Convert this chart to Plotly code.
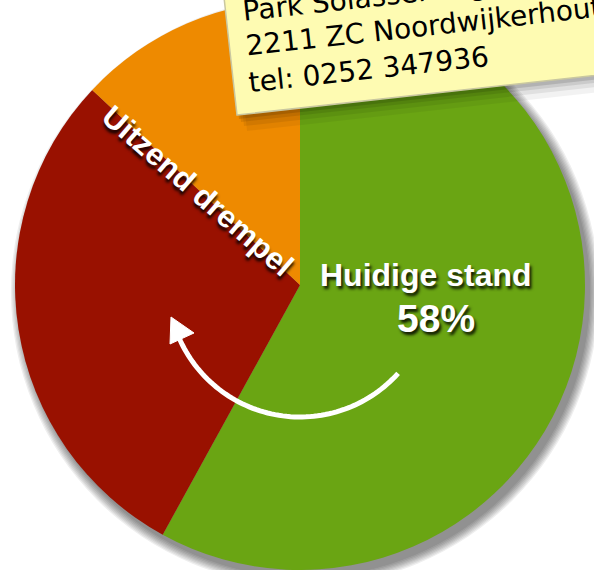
import numpy as np
import plotly.graph_objects as go

# ---- data ----
slice_labels = ["Huidige stand", "Uitzend drempel", "Rest"]
slice_values = [58, 29, 13]
slice_colors = ["#6aa513", "#991100", "#ee8a00"]
note_lines = ["Park Solasserweg 1", "2211 ZC Noordwijkerhout", "tel: 0252 347936"]
label_main = "Uitzend drempel"
label_now = "Huidige stand"
label_pct = "58%"

W, H = 594, 570
PX0, PX1 = 13, 587  # pie domain in pixels (x)


def px(x):
    return x / W


def py(y):
    return 1 - y / H


fig = go.Figure()
fig.add_trace(go.Pie(
    labels=slice_labels, values=slice_values, sort=False, direction="clockwise",
    rotation=0, textinfo="none", hoverinfo="label+percent",
    marker=dict(colors=slice_colors, line=dict(width=0)),
    domain=dict(x=[PX0 / W, PX1 / W], y=[0, 1]), showlegend=False,
))

cx, cy, r = (PX0 + PX1) / 2, H / 2, min(PX1 - PX0, H) / 2

shapes = []
# pie drop shadow
for k in range(8):
    rr = r + k * 1.3
    shapes.append(dict(type="circle", xref="paper", yref="paper", layer="below",
                       x0=px(cx + 5 - rr), x1=px(cx + 5 + rr),
                       y0=py(cy + 7 + rr), y1=py(cy + 7 - rr),
                       fillcolor="rgba(0,0,0,0.065)", line=dict(width=0)))

# curved arrow around the pie centre
ar = 132
ang = np.radians(np.linspace(42, 158, 70))
pts = [(cx + ar * np.cos(a), cy + ar * np.sin(a)) for a in ang]
path = "M " + " L ".join(f"{px(x):.5f},{py(y):.5f}" for x, y in pts)
shapes.append(dict(type="path", xref="paper", yref="paper", path=path,
                   line=dict(color="white", width=5)))
tri = [(171, 317), (170, 344), (194, 333)]
shapes.append(dict(type="path", xref="paper", yref="paper",
                   path="M " + " L ".join(f"{px(x):.5f},{py(y):.5f}" for x, y in tri) + " Z",
                   fillcolor="white", line=dict(color="white", width=1)))

# sticky note
th = np.radians(6.3)
u = np.array([np.cos(th), -np.sin(th)])
v = np.array([-np.sin(th), -np.cos(th)])
bl = np.array([237.0, 115.0])
nw, nh = 460, 260
corners = [bl, bl + nw * u, bl + nw * u + nh * v, bl + nh * v]


def poly(cs, off=(0, 0)):
    return "M " + " L ".join(f"{px(c[0] + off[0]):.5f},{py(c[1] + off[1]):.5f}" for c in cs) + " Z"


for k, (op, o) in enumerate([(0.05, (10, 16)), (0.07, (7, 11)), (0.09, (4, 7)), (0.12, (2, 4))]):
    shapes.append(dict(type="path", xref="paper", yref="paper", path=poly(corners, o),
                       fillcolor=f"rgba(0,0,0,{op})", line=dict(width=0)))
shapes.append(dict(type="path", xref="paper", yref="paper", path=poly(corners),
                   fillcolor="#fefbb2", line=dict(color="#c9c7a0", width=1.5)))

annotations = []
note_centers = [(377.6, -3.0), (423.4, 26.5), (368.6, 69.5)]
for t, (x, y) in zip(note_lines, note_centers):
    annotations.append(dict(text=t, xref="paper", yref="paper", x=px(x), y=py(y),
                            xanchor="center", yanchor="middle", showarrow=False,
                            textangle=-6.3,
                            font=dict(family="DejaVu Sans", size=28, color="black")))

shadow = "2px 3px 3px rgba(0,0,0,0.85)"
annotations.append(dict(text=label_main, xref="paper", yref="paper", x=px(197), y=py(191),
                        xanchor="center", yanchor="middle", showarrow=False, textangle=41,
                        font=dict(family="Liberation Sans", size=31, color="white",
                                  weight="bold", shadow=shadow)))
annotations.append(dict(text=label_now, xref="paper", yref="paper", x=px(426), y=py(275),
                        xanchor="center", yanchor="middle", showarrow=False,
                        font=dict(family="Liberation Sans", size=32, color="white",
                                  weight="bold", shadow=shadow)))
annotations.append(dict(text=label_pct, xref="paper", yref="paper", x=px(436), y=py(318),
                        xanchor="center", yanchor="middle", showarrow=False,
                        font=dict(family="Liberation Sans", size=39, color="white",
                                  weight="bold", shadow=shadow)))

fig.update_layout(width=W, height=H, margin=dict(l=0, r=0, t=0, b=0),
                  paper_bgcolor="white", plot_bgcolor="white",
                  shapes=shapes, annotations=annotations)
fig.write_html("out.html", config={"displayModeBar": False},
               post_script="document.body.style.margin='0';document.body.style.overflow='hidden';")
